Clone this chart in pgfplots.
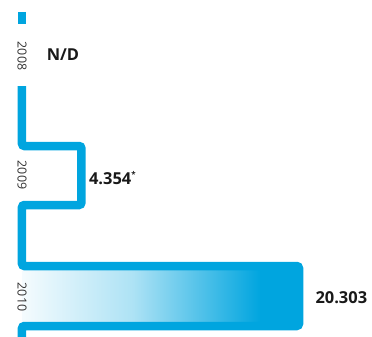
\documentclass[border=0pt]{standalone}
\usepackage{fontspec}
\setmainfont{Open Sans}
\usepackage{pgfplots}
\pgfplotsset{compat=1.18}
\definecolor{bl}{RGB}{0,165,223}
\pgfdeclarehorizontalshading{barshade}{100bp}{color(0bp)=(bl!4); color(25bp)=(bl!4); color(45bp)=(bl!32); color(68bp)=(bl); color(100bp)=(bl)}
\begin{document}
\begin{tikzpicture}
\begin{axis}[name=ax,
  scale only axis, width=372bp, height=337bp,
  xmin=-1.6125, xmax=25.654, ymin=0, ymax=337, y dir=reverse,
  hide axis, clip=false]
% gradient bar (2010)
\addplot[xbar, bar width=52, bar shift=0pt, draw=none, shading=barshade] coordinates {(20.303,296)};
% outline
\addplot[bl, line width=8.5bp, line cap=butt, rounded corners=2.5bp, mark=none]
  coordinates {(0,86) (0,146) (4.354,146) (4.354,205) (0,205) (0,266) (20.303,266) (20.303,326) (0,326) (0,337)};
\addplot[bl, line width=8.5bp, line cap=butt, mark=none] coordinates {(0,12) (0,24.5)};
% year labels
\node[rotate=-90, inner sep=0pt, font=\fontsize{12.5}{13}\selectfont, text=black!80] at (axis cs:0,56) {2008};
\node[rotate=-90, inner sep=0pt, font=\fontsize{12.5}{13}\selectfont, text=black!80] at (axis cs:0,175) {2009};
\node[rotate=-90, inner sep=0pt, font=\fontsize{12.5}{13}\selectfont, text=black!80] at (axis cs:0,297) {2010};
% values
\node[anchor=west, inner sep=0pt, font=\fontsize{16.5}{17}\bfseries, text=black!90] at (axis cs:1.8,55) {N/D};
\node[anchor=west, inner sep=0pt, font=\fontsize{16.5}{17}\bfseries, text=black!90] at (axis cs:4.9,178) {4.354\raisebox{0.75ex}{\fontsize{8}{8}\selectfont *}};
\node[anchor=west, inner sep=0pt, font=\fontsize{16.5}{17}\bfseries, text=black!90] at (axis cs:21.5,298) {20.303};
\end{axis}
\pgfresetboundingbox
\path (ax.south west) rectangle (ax.north east);
\end{tikzpicture}
\end{document}
